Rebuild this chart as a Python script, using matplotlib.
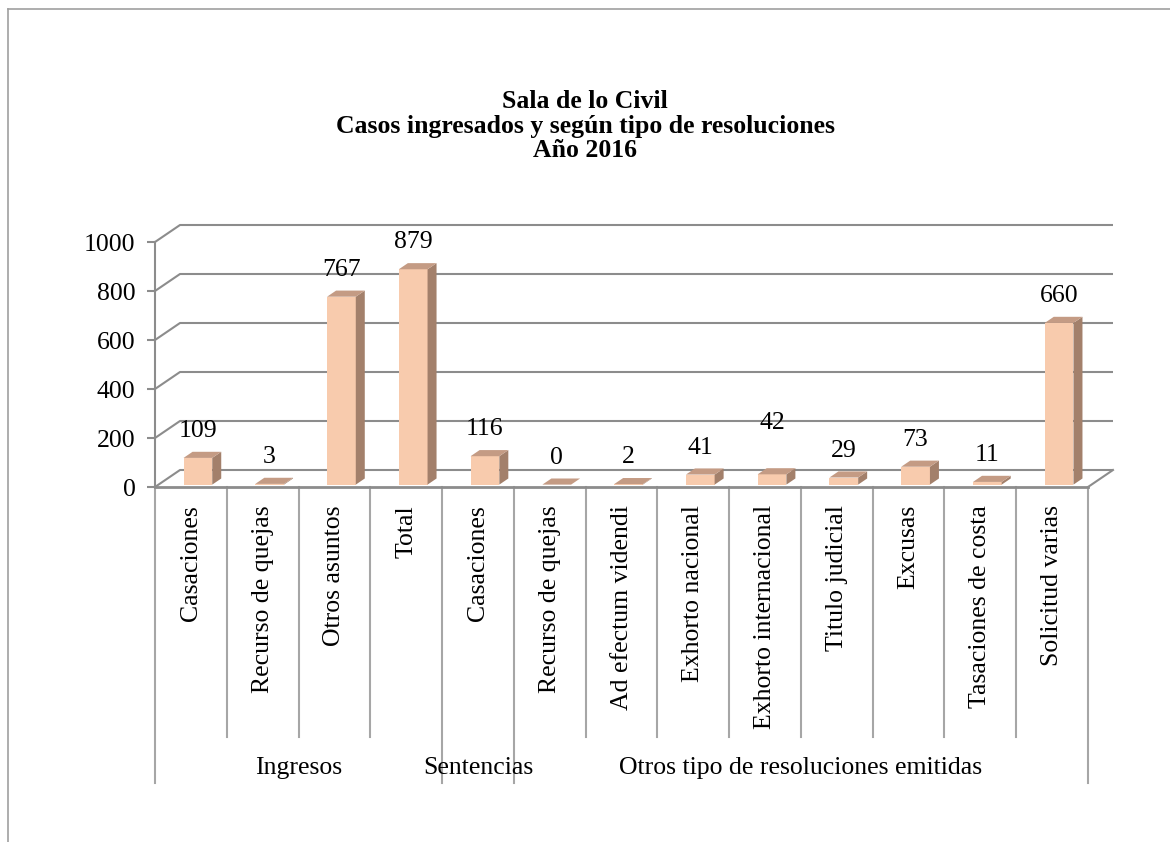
import matplotlib
matplotlib.use("Agg")
import matplotlib.pyplot as plt
from matplotlib.patches import Polygon
from matplotlib.lines import Line2D
from matplotlib.transforms import blended_transform_factory

# ---------------- data ----------------
categories = ["Casaciones", "Recurso de quejas", "Otros asuntos", "Total",
              "Casaciones", "Recurso de quejas", "Ad efectum videndi",
              "Exhorto nacional", "Exhorto internacional", "Titulo judicial",
              "Excusas", "Tasaciones de costa", "Solicitud varias"]
values = [109, 3, 767, 879, 116, 0, 2, 41, 42, 29, 73, 11, 660]
groups = ["Ingresos", "Sentencias", "Otros tipo de resoluciones emitidas"]
group_sizes = [4, 1, 8]
yticks = [0, 200, 400, 600, 800, 1000]
title_lines = ["Sala de lo Civil",
               "Casos ingresados y según tipo de resoluciones",
               "Año 2016"]

# ---------------- style ----------------
FONT = "Liberation Serif"
plt.rcParams["font.family"] = [FONT, "DejaVu Serif"]
FS = 18.5
FRONT = "#F8CBAD"
TOP = "#C49B84"
SIDE = "#A3806B"
GRID = "#8C8C8C"
LINE = "#A6A6A6"

W, H = 1170, 842
fig = plt.figure(figsize=(W / 100, H / 100), dpi=100)
fig.patch.set_facecolor("white")

# axes placement (front plane of the 3D box)
x_left, x_right, y_base, y_top = 155, 1088, 487, 242
ax = fig.add_axes([x_left / W, 1 - y_base / H, (x_right - x_left) / W, (y_base - y_top) / H])
n = len(categories)
ax.set_xlim(-0.5, n - 0.5)
ax.set_ylim(0, 1000)
ax.set_facecolor("none")

# depth offsets expressed in data units
px_per_x = (x_right - x_left) / n
px_per_y = (y_base - y_top) / 1000
DX = 25 / px_per_x
DY = 17 / px_per_y

# spines / ticks
for s in ["top", "right"]:
    ax.spines[s].set_visible(False)
ax.spines["left"].set_color(GRID)
ax.spines["left"].set_linewidth(1.5)
ax.spines["bottom"].set_color(GRID)
ax.spines["bottom"].set_linewidth(2)
ax.set_yticks(yticks)
ax.set_yticklabels([str(t) for t in yticks], fontsize=FS)
ax.tick_params(axis="y", length=6, width=1.5, color=GRID, pad=8)
ax.set_xticks([])

# gridlines on the back wall + side diagonals
for v in yticks:
    ax.plot([-0.5, -0.5 + DX, n - 0.5 + DX], [v, v + DY, v + DY],
            color=GRID, lw=1.5, clip_on=False, zorder=1, solid_capstyle="butt")
ax.plot([n - 0.5, n - 0.5 + DX], [0, DY], color=GRID, lw=1.5, clip_on=False, zorder=1)

# bars (3D look)
BW = 0.40
f0, f1 = 0.28, 0.64
d = f1 - f0
xs = [i + f0 * DX for i in range(n)]
base = 0.5 * f0 * DY
ax.bar(xs, values, width=BW, bottom=base, color=FRONT, zorder=3, clip_on=False,
       edgecolor="none")
for x, v in zip(xs, values):
    x0, x1 = x - BW / 2, x + BW / 2
    top = base + v
    side = Polygon([(x1, base), (x1 + d * DX, base + d * DY),
                    (x1 + d * DX, top + d * DY), (x1, top)],
                   closed=True, facecolor=SIDE, edgecolor="none", zorder=3, clip_on=False)
    topf = Polygon([(x0, top), (x1, top), (x1 + d * DX, top + d * DY),
                    (x0 + d * DX, top + d * DY)],
                   closed=True, facecolor=TOP, edgecolor="none", zorder=3, clip_on=False)
    ax.add_patch(side)
    ax.add_patch(topf)

# data labels
label_extra = {8: 24}  # Excel placed this label higher
for i, (x, v) in enumerate(zip(xs, values)):
    off_px = 27 + label_extra.get(i, 0)
    ax.annotate(str(v), (x, base + v), xytext=(0, off_px * 0.72),
                textcoords="offset points", ha="center", va="center",
                fontsize=FS, zorder=5, annotation_clip=False)

# multi-level category axis
tr = blended_transform_factory(ax.transData, ax.transAxes)
ax_h = y_base - y_top
inner_end = -(737 - y_base) / ax_h
outer_end = -(783 - y_base) / ax_h
bounds = [-0.5]
for g in group_sizes:
    bounds.append(bounds[-1] + g)
for k in range(n + 1):
    xb = k - 0.5
    end = outer_end if xb in bounds else inner_end
    ax.plot([xb, xb], [0, end], color=LINE, lw=1.5, transform=tr, clip_on=False)

lab_y = -(505 - y_base) / ax_h
for i, c in enumerate(categories):
    ax.text(i, lab_y, c, rotation=90, ha="center", va="top", fontsize=FS, transform=tr)

grp_y = -(768 - y_base) / ax_h
for gname, a, b in zip(groups, bounds[:-1], bounds[1:]):
    ax.text((a + b) / 2, grp_y, gname, ha="center", va="center", fontsize=FS, transform=tr)

# title
fig.text(585 / W, 1 - 126 / H, "\n".join(title_lines), ha="center", va="center",
         fontsize=FS, fontweight="bold", linespacing=1.07)

# outer chart border (partially visible)
bx, by = 8 / W, 1 - 9 / H
fig.add_artist(Line2D([bx, 1.0], [by, by], transform=fig.transFigure, color="#A0A0A0", lw=1.2))
fig.add_artist(Line2D([bx, bx], [by, 0.0], transform=fig.transFigure, color="#A0A0A0", lw=1.2))

fig.savefig("out.png", dpi=100)
